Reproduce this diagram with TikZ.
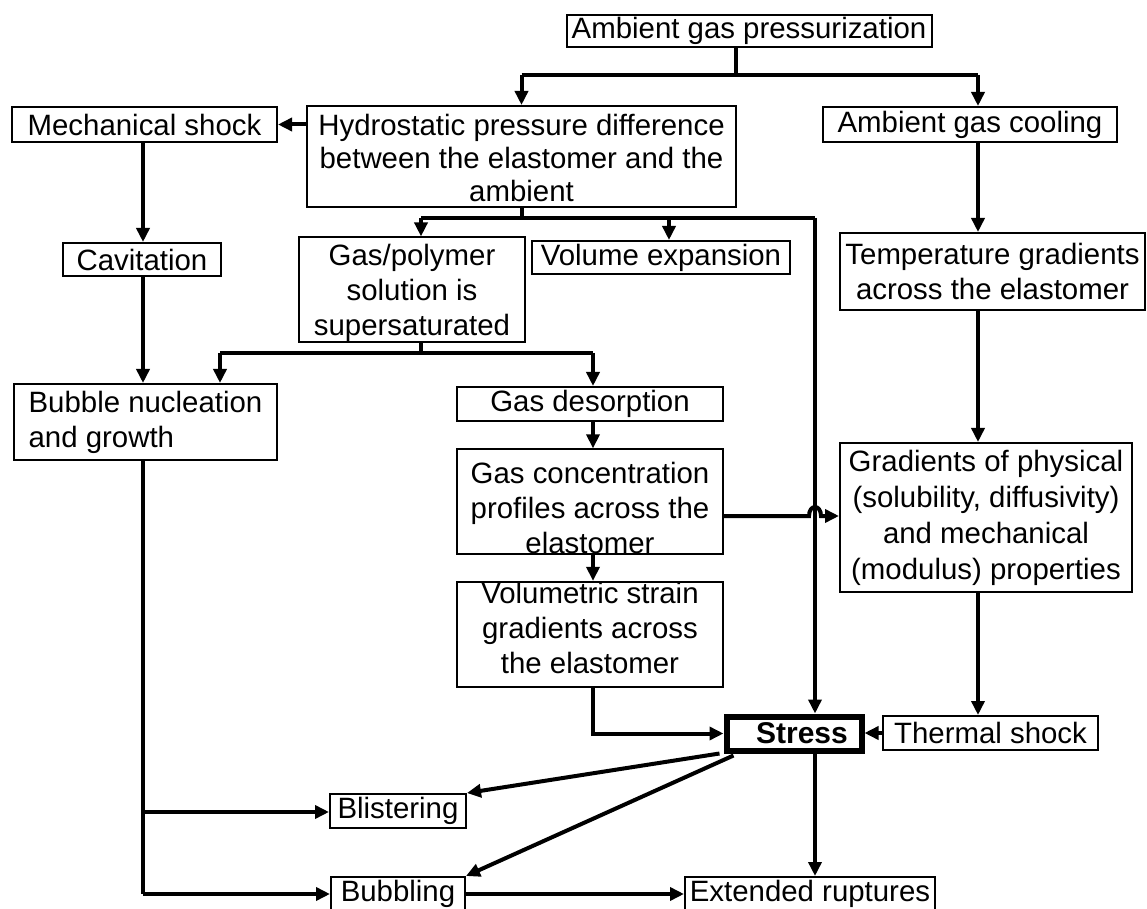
\documentclass[tikz,border=0pt]{standalone}
\usepackage{fontspec}
\setmainfont{Liberation Sans}
\usetikzlibrary{arrows.meta}
\begin{document}
\begin{tikzpicture}[x=0.5pt,y=-0.5pt,
  box/.style={draw,line width=1pt,inner sep=0pt,align=center,font=\fontsize{14.7}{17.5}\selectfont},
  ln/.style={line width=2pt},
  arr/.style={line width=2pt,-{Triangle[length=7pt,width=6.5pt]}},
]
\useasboundingbox[fill=white] (0,0) rectangle (1147,909);

% nodes
\node[box,minimum width=182.5pt,minimum height=16pt] (agp) at (749,31) {Ambient gas pressurization};
\node[box,minimum width=214.5pt,minimum height=50.5pt,font=\fontsize{14.7}{16.5}\selectfont] (hyd) at (521.5,156.5) {\rule{0pt}{12.5pt}Hydrostatic pressure difference\\between the elastomer and the\\ambient};
\node[box,minimum width=132.5pt,minimum height=17.5pt] (mech) at (144.5,124.5) {Mechanical shock};
\node[box,minimum width=147pt,minimum height=17.5pt] (cool) at (970,124.5) {Ambient gas cooling};
\node[box,minimum width=79pt,minimum height=16.5pt] (cav) at (142,259.5) {Cavitation};
\node[box,minimum width=113pt,minimum height=50.5pt] (gpol) at (412,289.5) {\rule{0pt}{14pt}Gas/polymer\\solution is\\supersaturated};
\node[box,minimum width=129pt,minimum height=16.5pt] (vol) at (661,257.5) {Volume expansion};
\node[box,minimum width=152.5pt,minimum height=38.5pt] (temp) at (992.5,271.5) {Temperature gradients\\across the elastomer};
\node[box,align=left,minimum width=131.5pt,minimum height=38pt] (bub) at (145.5,422) {Bubble nucleation\\and growth};
\node[box,minimum width=133pt,minimum height=17pt] (des) at (590,404) {Gas desorption};
\node[box,minimum width=133pt,minimum height=50.5pt] (conc) at (590,501.5) {\rule{0pt}{17pt}Gas concentration\\profiles across the\\elastomer};
\node[box,minimum width=133pt,minimum height=50.5pt] (volu) at (590,634.5) {Volumetric strain\\gradients across\\the elastomer\rule[-7pt]{0pt}{7pt}};
\node[box,minimum width=146pt,minimum height=74.5pt,font=\fontsize{14.7}{18}\selectfont] (grad) at (986,517.5) {Gradients of physical\\(solubility, diffusivity)\\and mechanical\\(modulus) properties};
\node[box,line width=3pt,minimum width=67.5pt,minimum height=17pt,font=\fontsize{15}{17.5}\selectfont\bfseries] (stress) at (794,733.5) {\hspace{8pt}Stress};
\node[box,minimum width=107.5pt,minimum height=17pt] (therm) at (990.5,733) {Thermal shock};
\node[box,minimum width=68pt,minimum height=17pt] (blis) at (398,811) {Blistering};
\node[box,minimum width=67pt,minimum height=17pt] (bubl) at (398,894) {Bubbling};
\node[box,minimum width=125pt,minimum height=17pt] (ext) at (810,894) {Extended ruptures};

% junction coordinates
\coordinate (tA) at (736,75);
\coordinate (tL) at (521.5,75);
\coordinate (tR) at (978,75);
\coordinate (hL) at (421,218);
\coordinate (hM) at (669,218);
\coordinate (hR) at (815,218);
\coordinate (gL) at (220,353);
\coordinate (gM) at (421,353);
\coordinate (gR) at (593,353);
\coordinate (cL) at (143,0);
\coordinate (cC) at (593,0);
\coordinate (cY) at (0,516);
\coordinate (bY1) at (0,812);
\coordinate (bY2) at (0,894);

% top trunk
\draw[ln] (tA |- agp.south) -- (tA);
\draw[ln] (tL) -- (tR);
\draw[arr] (tL) -- (hyd.north);
\draw[arr] (tR) -- (tR |- cool.north);

% left column
\draw[arr] (hyd.west |- mech) -- (mech.east);
\draw[arr] (cL |- mech.south) -- (cL |- cav.north);
\draw[arr] (cL |- cav.south) -- (cL |- bub.north);

% hydrostatic branches
\draw[ln] (hyd.south) -- (hyd.south |- hL);
\draw[ln] (hL) -- (hR);
\draw[arr] (hL) -- (hL |- gpol.north);
\draw[arr] (hM) -- (hM |- vol.north);
\draw[arr] (hR) -- (hR |- stress.north);

% gas/polymer branches
\draw[ln] (gM |- gpol.south) -- (gM);
\draw[ln] (gL) -- (gR);
\draw[arr] (gL) -- (gL |- bub.north);
\draw[arr] (gR) -- (gR |- des.north);

% centre column
\draw[arr] (cC |- des.south) -- (cC |- conc.north);
\draw[arr] (cC |- conc.south) -- (cC |- volu.north);
\draw[arr] (cC |- volu.south) -- (cC |- stress.west) -- (stress.west);
\draw[arr] (conc.east |- cY) -- (809,516) .. controls (809,504) and (821,504) .. (821,516) -- (grad.west |- cY);

% right column
\draw[arr] (tR |- cool.south) -- (tR |- temp.north);
\draw[arr] (tR |- temp.south) -- (tR |- grad.north);
\draw[arr] (tR |- grad.south) -- (tR |- therm.north);
\draw[arr] (therm.west) -- (therm.west -| stress.east);

% bottom
\draw[ln] (cL |- bub.south) -- (cL |- bY2);
\draw[arr] (cL |- bY1) -- (blis.west |- bY1);
\draw[arr] (cL |- bY2) -- (bubl.west |- bY2);
\draw[arr] ([xshift=-2pt]stress.south west) -- (blis.north east);
\draw[arr] ([xshift=5pt,yshift=-1pt]stress.south west) -- (bubl.north east);
\draw[arr] (hR |- stress.south) -- (hR |- ext.north);
\draw[arr] (bubl.east) -- (ext.west);
\end{tikzpicture}
\end{document}
